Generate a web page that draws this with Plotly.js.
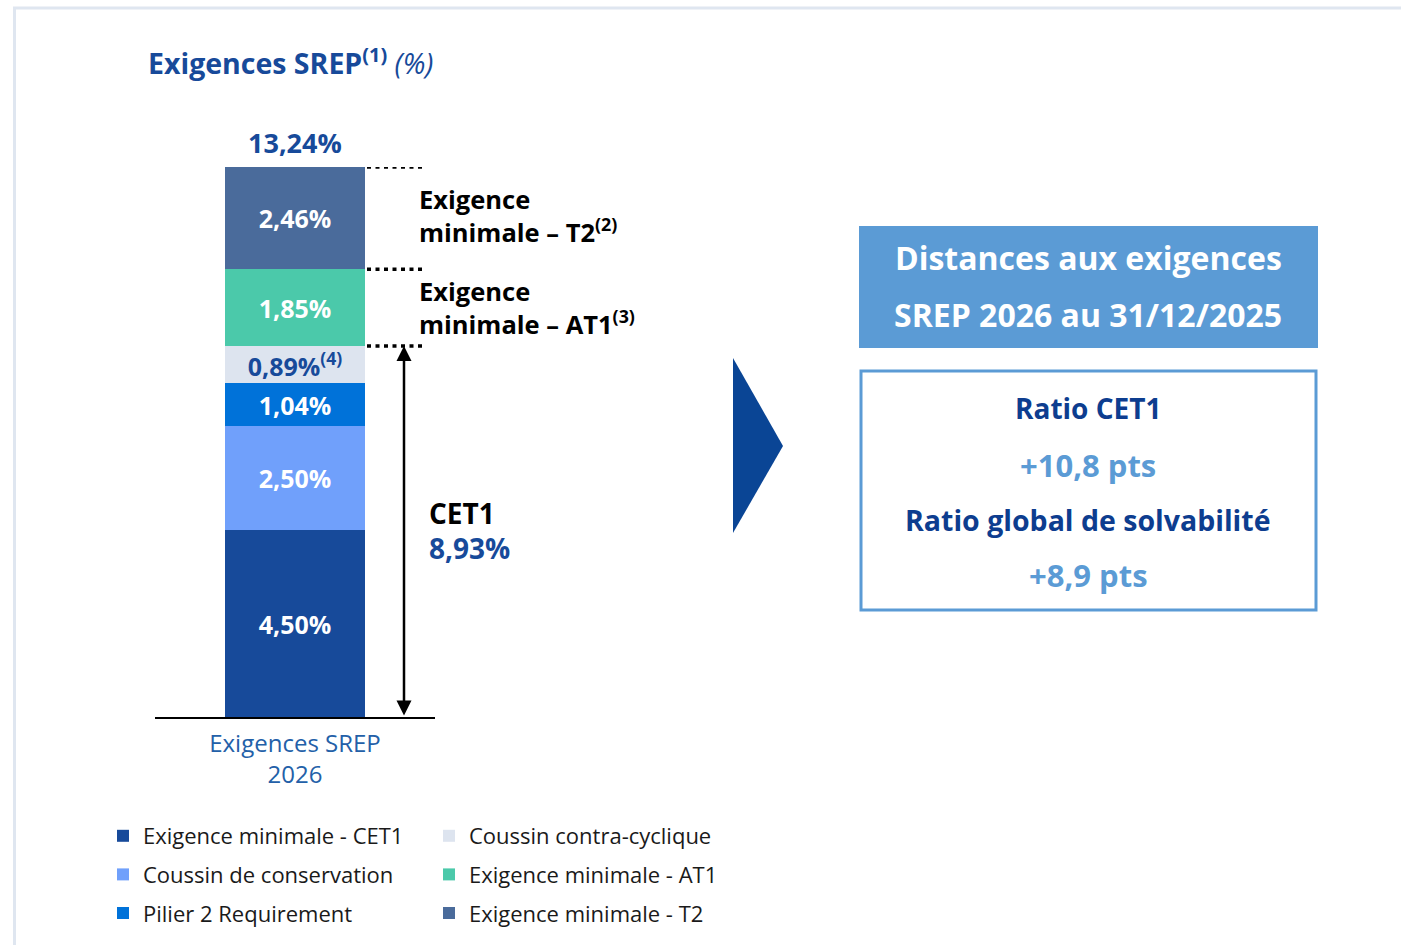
<!DOCTYPE html>
<html>
<head>
<meta charset="utf-8">
<script src="https://cdn.plot.ly/plotly-3.0.1.min.js"></script>
<style>html,body{margin:0;padding:0;background:#fff;}#chart{width:1401px;height:945px;}</style>
</head>
<body>
<div id="chart"></div>
<script>
// ---- data ----
const categories = ['Exigences SREP<br>2026'];
const seriesNames = ['Exigence minimale - CET1', 'Coussin de conservation', 'Pilier 2 Requirement',
                     'Coussin contra-cyclique', 'Exigence minimale - AT1', 'Exigence minimale - T2'];
const seriesValues = [4.50, 2.50, 1.04, 0.89, 1.85, 2.46];
const seriesLabels = ['4,50%', '2,50%', '1,04%', '0,89%<sup>(4)</sup>', '1,85%', '2,46%'];
const totalLabel = '13,24%';
const cet1Label = '8,93%';
const tierLabels = ['Exigence<br>minimale – T2<sup>(2)</sup>', 'Exigence<br>minimale – AT1<sup>(3)</sup>'];
const boxTitle = ['Distances aux exigences', 'SREP 2026 au 31/12/2025'];
const distanceNames = ['Ratio CET1', 'Ratio global de solvabilité'];
const distanceValues = ['+10,8 pts', '+8,9 pts'];

// ---- styles ----
const colors = ['#174a9a', '#70a0fb', '#0072d9', '#dde4ef', '#4bc9aa', '#4a6b9b'];
const textColors = ['#ffffff', '#ffffff', '#ffffff', '#174a9a', '#ffffff', '#ffffff'];
const FONT = 'Open Sans, sans-serif';
const W = 1401, H = 945;
const px = x => x / W;
const py = y => 1 - y / H;

const cum = [];
seriesValues.reduce((a, v, i) => (cum[i] = a + v), 0);
const total = cum[cum.length - 1];
const cet1Top = cum[3];
const at1Top = cum[4];

const traces = seriesValues.map((v, i) => ({
  type: 'bar',
  x: categories,
  y: [v],
  name: seriesNames[i],
  text: [seriesLabels[i]],
  texttemplate: '<b>%{text}</b>',
  textposition: 'inside',
  insidetextanchor: 'middle',
  textangle: 0,
  constraintext: 'none',
  textfont: {family: FONT, size: 25, color: textColors[i]},
  marker: {color: colors[i], line: {width: 0}},
  width: 0.5,
  hoverinfo: 'skip',
  legend: i < 3 ? 'legend' : 'legend2',
  legendgroup: 'g' + i
}));

const dotLine = {color: '#000', width: 3.5, dash: '4px,4.5px'};

const shapes = [
  // frame
  {type: 'line', xref: 'paper', yref: 'paper', x0: px(13), x1: 1, y0: py(8), y1: py(8), line: {color: '#dfe6f0', width: 3}},
  {type: 'line', xref: 'paper', yref: 'paper', x0: px(14.5), x1: px(14.5), y0: py(8), y1: 0, line: {color: '#dfe6f0', width: 3}},
  // dotted leaders
  ...[total, at1Top, cet1Top].map(v => ({
    type: 'line', xref: 'paper', yref: 'y', x0: px(367), x1: px(425), y0: v, y1: v, line: dotLine
  })),
  // chevron
  {type: 'path', xref: 'paper', yref: 'paper',
   path: `M ${px(733)},${py(358)} L ${px(783)},${py(446)} L ${px(733)},${py(533)} Z`,
   fillcolor: '#0a4595', line: {width: 0}},
  // header box
  {type: 'rect', xref: 'paper', yref: 'paper', x0: px(859), x1: px(1318), y0: py(348), y1: py(226),
   fillcolor: '#5b9bd5', line: {width: 0}},
  // values box
  {type: 'rect', xref: 'paper', yref: 'paper', x0: px(861), x1: px(1316), y0: py(610), y1: py(371),
   fillcolor: 'rgba(0,0,0,0)', line: {color: '#5b9bd5', width: 3}}
];

const ann = (x, y, text, font, extra) => Object.assign({
  xref: 'paper', yref: 'paper', x: px(x), y: py(y), text, showarrow: false, borderpad: 0,
  xanchor: 'left', yanchor: 'middle', align: 'left', font: Object.assign({family: FONT}, font)
}, extra || {});
const center = {xanchor: 'center', align: 'center'};

const annotations = [
  ann(147, 62, '<b>Exigences SREP<sup>(1)</sup></b> <i>(%)</i>', {size: 28.5, color: '#174a9a'}),
  {xref: 'x', yref: 'y', x: categories[0], y: total, text: '<b>' + totalLabel + '</b>', showarrow: false,
   yanchor: 'bottom', yshift: 4, font: {family: FONT, size: 27, color: '#174a9a'}},
  ann(418, 216, '<b>' + tierLabels[0] + '</b>', {size: 25.5, color: '#000'}),
  ann(418, 307, '<b>' + tierLabels[1] + '</b>', {size: 25.5, color: '#000'}),
  ann(428, 513, '<b>CET1</b>', {size: 28, color: '#000'}),
  ann(428, 548, '<b>' + cet1Label + '</b>', {size: 28, color: '#174a9a'}),
  // double arrow
  {xref: 'paper', yref: 'y', x: px(404), y: cet1Top, axref: 'pixel', ayref: 'y', ax: 0, ay: 0,
   text: '', showarrow: true, arrowhead: 2, startarrowhead: 2, arrowside: 'end+start',
   arrowsize: 1.2, startarrowsize: 1.2, arrowwidth: 2.5, arrowcolor: '#000'},
  // boxes text
  ann(1088, 258, '<b>' + boxTitle[0] + '</b>', {size: 32, color: '#ffffff'}, center),
  ann(1088, 315, '<b>' + boxTitle[1] + '</b>', {size: 32, color: '#ffffff'}, center),
  ann(1088, 408, '<b>' + distanceNames[0] + '</b>', {size: 28, color: '#0d3d8f'}, center),
  ann(1088, 465, '<b>' + distanceValues[0] + '</b>', {size: 31, color: '#5b9bd5'}, center),
  ann(1088, 520, '<b>' + distanceNames[1] + '</b>', {size: 28.5, color: '#0d3d8f'}, center),
  ann(1088, 575, '<b>' + distanceValues[1] + '</b>', {size: 31, color: '#5b9bd5'}, center)
];

const legendBase = {
  orientation: 'v', traceorder: 'grouped', xanchor: 'left', yanchor: 'top',
  y: py(815), font: {family: FONT, size: 22, color: '#1a1a1a'},
  bgcolor: 'rgba(0,0,0,0)', itemwidth: 30, tracegroupgap: 7, itemclick: false, itemdoubleclick: false
};

const layout = {
  width: W, height: H,
  margin: {l: 0, r: 0, t: 0, b: 0},
  paper_bgcolor: '#ffffff', plot_bgcolor: 'rgba(0,0,0,0)',
  barmode: 'stack', bargap: 0,
  showlegend: true,
  legend: Object.assign({}, legendBase, {x: px(103)}),
  legend2: Object.assign({}, legendBase, {x: px(429)}),
  xaxis: {
    type: 'category', domain: [px(155), px(435)], range: [-0.5, 0.5],
    showline: true, linecolor: '#000', linewidth: 2, ticks: '', showgrid: false, zeroline: false,
    ticklabelstandoff: 4,
    tickfont: {family: FONT, size: 24, color: '#2360a8'}, fixedrange: true
  },
  yaxis: {
    domain: [py(717), py(167)], range: [0, total],
    showgrid: false, zeroline: false, showticklabels: false, showline: false, fixedrange: true
  },
  shapes, annotations,
  font: {family: FONT}
};

Plotly.newPlot('chart', traces, layout, {displayModeBar: false, staticPlot: true});
</script>
</body>
</html>
